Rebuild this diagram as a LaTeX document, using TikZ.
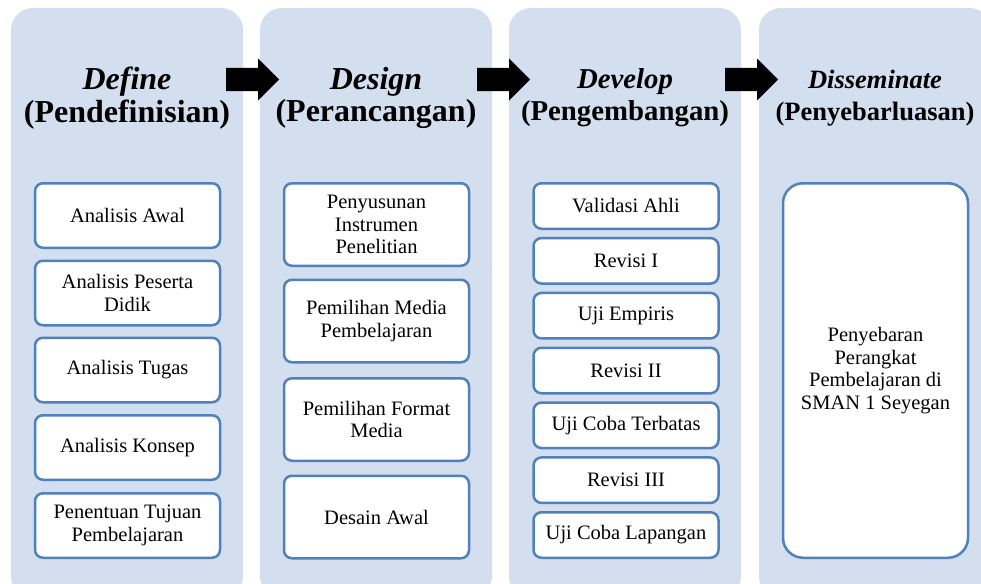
\documentclass[tikz,border=0pt]{standalone}
\usepackage{fontspec}
\setmainfont{Liberation Serif}
\usetikzlibrary{shapes.arrows}
\definecolor{phasefill}{RGB}{211,222,239}
\definecolor{stepline}{RGB}{79,129,189}
\tikzstyle{phase}=[fill=phasefill, rounded corners=22pt, minimum width=232pt, minimum height=590pt, inner sep=0]
\tikzstyle{title}=[align=center, inner sep=0, anchor=north]
\tikzstyle{stepbox}=[draw=stepline, line width=2.5pt, fill=white, rounded corners=8pt,
                     minimum width=185pt, align=center, inner sep=0,
                     font=\fontsize{20.5}{22.5}\selectfont]
\tikzstyle{blockarrow}=[single arrow, fill=black, inner xsep=0, inner ysep=11.5pt, anchor=tip,
                        minimum height=53pt, single arrow head extend=9.5pt]

\begin{document}
\begin{tikzpicture}[x=1pt, y=-1pt]
        \useasboundingbox (0, 0) rectangle (981, 583);
        \clip (0, 0) rectangle (981, 583);
        % phase columns
        \node[phase] (define)      at (127, 303) {};
        \node[phase] (design)      at (376, 303) {};
        \node[phase] (develop)     at (625, 303) {};
        \node[phase] (disseminate) at (875, 303) {};
        % arrows between phases
        \node[blockarrow] (A1) at (279.5, 79.5) {};
        \node[blockarrow] (A2) at (530.5, 79.5) {};
        \node[blockarrow] (A3) at (778.5, 79.5) {};
        % titles
        \node[title, font=\bfseries\fontsize{32}{32.5}\selectfont] (Tdefine) at (127, 67)
            {\textit{Define}\\(Pendefinisian)};
        \node[title, font=\bfseries\fontsize{32}{32.5}\selectfont] (Tdesign) at (376, 67)
            {\textit{Design}\\(Perancangan)};
        \node[title, font=\bfseries\fontsize{28.8}{32}\selectfont] (Tdevelop) at (625, 68)
            {\textit{Develop}\\(Pengembangan)};
        \node[title, font=\bfseries\fontsize{26.5}{32}\selectfont] (Tdisseminate) at (875, 70)
            {\textit{Disseminate}\\(Penyebarluasan)};
        % define steps
        \node[stepbox, minimum height=64.5pt] (D1) at (127.5, 215.5) {Analisis Awal};
        \node[stepbox, minimum height=64.5pt] (D2) at (127.5, 293)   {Analisis Peserta\\Didik};
        \node[stepbox, minimum height=64.5pt] (D3) at (127.5, 370)   {Analisis Tugas};
        \node[stepbox, minimum height=64.5pt] (D4) at (127.5, 447.5) {Analisis Konsep};
        \node[stepbox, minimum height=64.5pt] (D5) at (127.5, 525.5) {Penentuan Tujuan\\Pembelajaran};
        % design steps
        \node[stepbox, minimum height=82.5pt] (G1) at (376.5, 224.5) {Penyusunan\\Instrumen\\Penelitian};
        \node[stepbox, minimum height=82.5pt] (G2) at (376.5, 321)   {Pemilihan Media\\Pembelajaran};
        \node[stepbox, minimum height=82.5pt] (G3) at (376.5, 419.5) {Pemilihan Format\\Media};
        \node[stepbox, minimum height=82.5pt] (G4) at (376.5, 517)   {Desain Awal};
        % develop steps
        \node[stepbox, minimum height=45.5pt] (V1) at (626, 206)   {Validasi Ahli};
        \node[stepbox, minimum height=45.5pt] (V2) at (626, 260.8) {Revisi I};
        \node[stepbox, minimum height=45.5pt] (V3) at (626, 315.7) {Uji Empiris};
        \node[stepbox, minimum height=45.5pt] (V4) at (626, 370.5) {Revisi II};
        \node[stepbox, minimum height=45.5pt] (V5) at (626, 425.3) {Uji Coba Terbatas};
        \node[stepbox, minimum height=45.5pt] (V6) at (626, 480.2) {Revisi III};
        \node[stepbox, minimum height=45.5pt] (V7) at (626, 535)   {Uji Coba Lapangan};
        % disseminate step
        \node[stepbox, minimum height=374.5pt, rounded corners=20pt] (S1) at (875.5, 370.5)
            {Penyebaran\\Perangkat\\Pembelajaran di\\SMAN 1 Seyegan};
    \end{tikzpicture}
\end{document}
